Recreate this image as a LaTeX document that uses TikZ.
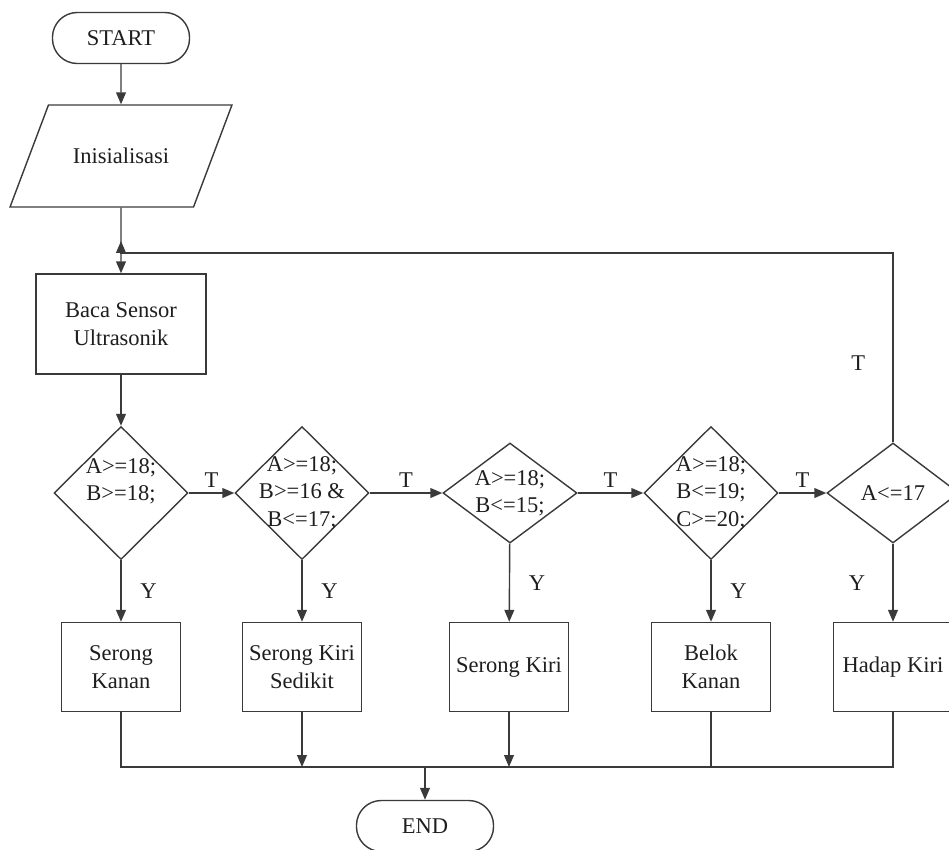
\documentclass[tikz,border=0pt]{standalone}
\usepackage{fontspec}
\setmainfont{Liberation Serif}
\usepackage{tikz}
\usetikzlibrary{arrows.meta}
\usetikzlibrary{shapes.geometric}
\definecolor{ln}{HTML}{3A3A3A}
\definecolor{tx}{HTML}{1E1E1E}

\begin{document}
\begin{tikzpicture}[x=0.025cm,y=-0.025cm,
	font=\fontsize{16}{19.5}\selectfont,
	every node/.style={text=tx},
	line/.style={draw=ln,line width=1pt},
	arr/.style={line,-{Triangle[length=8.5pt,width=7pt]}},
	term/.style={line,rectangle,rounded corners=0.62cm,minimum width=3.425cm,minimum height=1.275cm},
	proc/.style={line,rectangle,align=center,minimum width=2.975cm,minimum height=2.225cm},
	io/.style={line,trapezium,trapezium left angle=42,trapezium right angle=138,trapezium stretches=true,minimum width=5.55cm,minimum height=2.55cm},
	dec/.style={line,diamond,align=center,inner sep=-1cm,minimum width=3.35cm,minimum height=3.325cm}]
	\useasboundingbox (0,0) rectangle (949,850);
	\node[term] (start) at (121,38) {START};
	\node[io] (init) at (121,156) {Inisialisasi};
	\node[proc,minimum width=4.25cm,minimum height=2.5cm] (baca) at (121,324) {Baca Sensor\\Ultrasonik};
	\node[dec] (d1) at (121,493) {A>=18;\\B>=18;\\\mbox{}};
	\node[dec] (d2) at (302,493) {A>=18;\\B>=16 \&\\B<=17;};
	\node[dec,minimum height=2.5cm] (d3) at (510,493) {A>=18;\\B<=15;};
	\node[dec] (d4) at (711,493) {A>=18;\\B<=19;\\C>=20;};
	\node[dec,minimum height=2.5cm,minimum width=3.3cm] (d5) at (893,493) {A<=17};
	\foreach \nm/\px/\lbl in {a1/121/{Serong\\Kanan}, a2/302/{Serong Kiri\\Sedikit}, a3/509/{Serong Kiri}, a4/711/{Belok\\Kanan}, a5/893/{Hadap Kiri}}
	\node[proc] (\nm) at (\px,667) {\lbl};
	\node[term] (end) at (425,826) {END};
	\coordinate (loop) at (121,253);
	\coordinate (bus) at (425,767);
	\draw[arr] (start) -- (init);
	\draw[arr] (init) -- (baca);
	\draw[arr] (baca) -- (d1);
	\foreach \i [count=\j from 2] in {1,...,4}
	\draw[arr] (d\i) -- node[above]{T} (d\j);
	\foreach \i in {1,...,4}
	\draw[arr] (d\i) -- node[right,xshift=10pt]{Y} (a\i);
	\draw[arr] (d5) -- node[left,xshift=-16pt]{Y} (a5);
	%back to sensor
	\draw[arr] (d5) -- node[pos=.42,left,xshift=-16pt]{T} (d5 |- loop) -- (loop) -- ++(0,-12);
	%merge to end
	\draw[line] (a1) |- (bus) -| (a5);
	\draw[arr] (a2) -- (a2 |- bus);
	\draw[arr] (a3) -- (a3 |- bus);
	\draw[line] (a4) -- (a4 |- bus);
	\draw[arr] (bus) -- (end);
\end{tikzpicture}
\end{document}
